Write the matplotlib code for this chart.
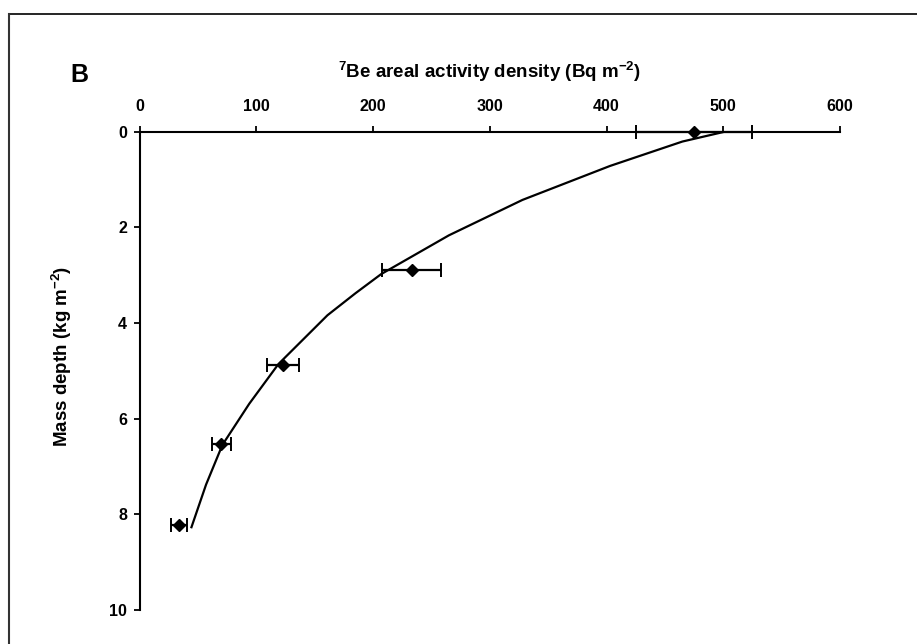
import numpy as np
import matplotlib
matplotlib.use("Agg")
import matplotlib.pyplot as plt
from matplotlib.lines import Line2D

plt.rcParams['font.family'] = ['Liberation Sans', 'DejaVu Sans']
plt.rcParams['font.weight'] = 'bold'
plt.rcParams['mathtext.fontset'] = 'custom'
plt.rcParams['mathtext.rm'] = 'Liberation Sans:bold'
plt.rcParams['mathtext.default'] = 'rm'

# measured 7Be inventory with depth
depth = [0.0, 2.90, 4.88, 6.54, 8.23]
activity = [475, 233, 123, 70, 34]
activity_err = [50, 25, 14, 8, 7]

# fitted profile
fit_depth = [0.0, 0.21, 0.72, 1.43, 2.17, 2.98, 3.38, 3.84, 4.86, 5.69, 6.55, 7.38, 8.27]
fit_activity = [502, 465, 403, 328, 265, 207, 185, 161, 119, 94, 71, 57, 44.5]

fig = plt.figure(figsize=(9.17, 6.44), dpi=100)
W, H = 917, 644
ax = fig.add_axes([139.5 / W, 1 - 610 / H, (840 - 139.5) / W, (610 - 131.5) / H])

ax.plot(fit_activity, fit_depth, color='black', lw=1.6, zorder=2)
ax.errorbar(activity, depth, xerr=activity_err, fmt='D', color='black',
            markersize=6.5, elinewidth=1.6, capsize=5, capthick=1.4, zorder=3, clip_on=False)

ax.set_xlim(0, 600)
ax.set_ylim(10, 0)
ax.set_xticks(np.arange(0, 601, 100))
ax.set_yticks(np.arange(0, 11, 2))

ax.xaxis.tick_top()
ax.spines['right'].set_visible(False)
ax.spines['bottom'].set_visible(False)
for s in ['top', 'left']:
    ax.spines[s].set_linewidth(1.5)
ax.tick_params(axis='x', direction='out', length=4, width=1.3, pad=8.5, labelsize=11.5)
ax.tick_params(axis='y', direction='out', length=4, width=1.3, pad=5, labelsize=11.5)
for lbl in ax.get_xticklabels() + ax.get_yticklabels():
    lbl.set_fontweight('bold')

ax.set_xlabel(r'$^{7}$Be areal activity density (Bq m$^{-2}$)', fontsize=13.5, fontweight='bold')
ax.xaxis.set_label_position('top')
ax.xaxis.set_label_coords(0.5, 1.125)
ax.xaxis.label.set_va('center')
ax.set_ylabel(r'Mass depth (kg m$^{-2}$)', fontsize=13.5, fontweight='bold')
ax.yaxis.set_label_coords(-0.111, 0.531)
ax.yaxis.label.set_va('center')

fig.text(79 / W, 1 - 75 / H, 'B', fontsize=18, fontweight='bold', ha='center', va='center')

# panel frame
fig.add_artist(Line2D([8.5 / W, 1], [1 - 14 / H, 1 - 14 / H], color='black', lw=1.2))
fig.add_artist(Line2D([8.5 / W, 8.5 / W], [0, 1 - 14 / H], color='#333333', lw=1.5))

fig.savefig('out.png', dpi=100)
